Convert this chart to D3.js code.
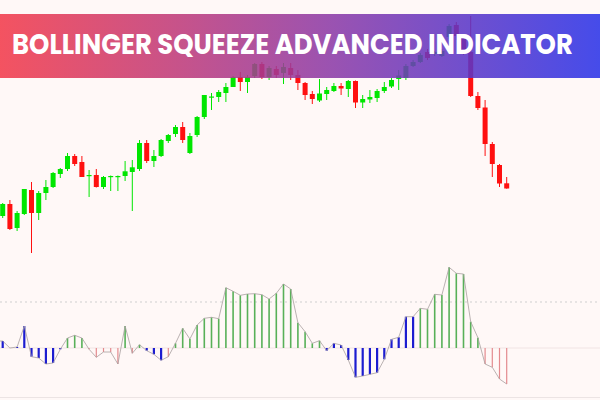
<!DOCTYPE html>
<html>
<head>
<meta charset="utf-8">
<script src="https://cdn.jsdelivr.net/npm/d3@7"></script>
<style>
  html, body { margin: 0; padding: 0; background: #fff8f7; }
  svg { display: block; }
</style>
</head>
<body>
<svg id="chart" width="600" height="400"></svg>
<script>
// ---- data (price points; candles: open, high, low, close) ----
const opens  = [44,56,32,46,70,47,67,73,86,91,104,98,84,85,73,83,83,84,88,91,117,99,104,119,126,133,107,125,143,162.5,163,167,173,183,178,184,196,183,191,187,192,185,177,166,159.5,166,169,174,171,179,157.5,160.5,162,169,173.5,181,182,194,198,208,206,204,223,235,222,208,164,152.5,116,95,76.7];
const highs  = [57,60,49,71,78,69,80,88,92,107,106,104,90,91,84,84.5,84.5,99,100,120,120,110,121,126,135,138,127,144,165,167,170,177,184,188,185,197,198,194,194,197,197,190,178,169,181,173,177,177,180,179.5,165,170,171,178,182,190,196,200,207,211,209,211,236,238,226,244,168,160,118,96,83];
const lows   = [42,30,29,45,7,40,60,72,82,89,94,83,63,72.5,71,69,69,79,49,89,97,93,103,117,123,117,106,123,141,150,158,158,173,169,167,182,181,180,182,176,180,170,160,156,158,160,168,165,163,152,152,157,158,167,172,170,180,193,197,200,204,203,221,220,205,163,150,104,83,73,71.3];
const closes = [56,31,47,71,47,67,73,87,91,104,96,83,85,73,83,84,84,88.7,92.7,117,99,104,120,125,133,120,124,143,165,163.5,168,173,183,178,183,196,183,192,185,193,185,177,165,161,166.5,170,174,171.5,179,157.5,161,163,169,173,180,184.5,194,198,205,202,208,209,234,224,210,164,152,116,96,76.5,71.5];

// ---- indicator histogram values and their colour classes ----
const histValues = [7,0,1,22,-8.7,-10,-16,-15,-1.3,10,12.7,10,-1.3,-9.3,-4,-4,-16,22,-5.3,3.3,-2.7,-6.3,-12.3,-8.7,4.7,19.7,9,23,29.7,30.7,29.3,60.3,56.7,52.7,54,54.3,53.3,49,54.7,64,59,25.3,16.3,4.7,7.3,-2.7,4.7,3,-12,-29.3,-28,-26.3,-24.7,-11.3,8.7,10.7,31.3,31.3,39.7,38.7,53.7,53,80.7,74.7,74,26.3,10.3,-16,-19.3,-31,-36];
const histClass  = ["b","b","b","b","b","b","b","b","b","g","g","g","r","r","r","r","r","g","r","g","b","b","b","r","g","g","g","g","g","g","g","g","g","g","g","g","g","g","g","g","g","g","g","g","g","b","b","b","b","b","b","b","b","b","b","b","b","b","g","g","g","g","g","g","g","g","g","r","r","r","r"];
const squeezeLevel = 46;   // dotted reference level of the indicator
const titleText = "BOLLINGER SQUEEZE ADVANCED INDICATOR";

const candles = opens.map((o, i) => ({ i, o, h: highs[i], l: lows[i], c: closes[i] }));
const hist = histValues.map((v, i) => ({ i, v, k: histClass[i] }));

const W = 600, H = 400;
const svg = d3.select("#chart");

svg.append("rect").attr("width", W).attr("height", H).attr("fill", "#fff8f7");

const x = d3.scaleLinear().domain([0, candles.length - 1]).range([2.7, 506.7]);
const yP = d3.scaleLinear().domain([0, 260]).range([260, 0]);
const yH = d3.scaleLinear().domain([-50, 100]).range([398, 248]);

// ---- candles ----
const up = "#00e600", down = "#ff1010";
const cg = svg.append("g");
cg.selectAll("line.wick").data(candles).join("line")
  .attr("class", "wick")
  .attr("x1", d => x(d.i)).attr("x2", d => x(d.i))
  .attr("y1", d => yP(d.h)).attr("y2", d => yP(d.l))
  .attr("stroke", d => d.c >= d.o ? up : down)
  .attr("stroke-width", 1);
cg.selectAll("rect.body").data(candles).join("rect")
  .attr("class", "body")
  .attr("x", d => x(d.i) - 2.5)
  .attr("width", 5)
  .attr("y", d => yP(Math.max(d.o, d.c)))
  .attr("height", d => Math.max(1.2, Math.abs(yP(d.o) - yP(d.c))))
  .attr("fill", d => d.c >= d.o ? up : down);

// ---- indicator panel ----
const ig = svg.append("g");
ig.append("line").attr("x1", 0).attr("x2", W)
  .attr("y1", yH(0)).attr("y2", yH(0))
  .attr("stroke", "#f1e4e4").attr("stroke-width", 1);
ig.append("line").attr("x1", 0).attr("x2", W)
  .attr("y1", yH(squeezeLevel)).attr("y2", yH(squeezeLevel))
  .attr("stroke", "#cfcfcf").attr("stroke-width", 1)
  .attr("stroke-dasharray", "2,3");
ig.append("line").attr("x1", 0).attr("x2", W)
  .attr("y1", 397.5).attr("y2", 397.5)
  .attr("stroke", "#ece4e4").attr("stroke-width", 1);

const colorH = { b: "#1c1cd0", g: "#58b058", r: "#e48a8e" };
const widthH = { b: 2.2, g: 1.6, r: 1.2 };
ig.selectAll("line.hbar").data(hist).join("line")
  .attr("class", "hbar")
  .attr("x1", d => x(d.i)).attr("x2", d => x(d.i))
  .attr("y1", yH(0)).attr("y2", d => yH(d.v))
  .attr("stroke", d => colorH[d.k])
  .attr("stroke-width", d => widthH[d.k]);

const line = d3.line().x(d => x(d.i)).y(d => yH(d.v));
ig.append("path").datum(hist)
  .attr("d", line)
  .attr("fill", "none")
  .attr("stroke", "#a8a0a0")
  .attr("stroke-width", 0.8);
ig.append("line")
  .attr("x1", 0).attr("x2", x(0))
  .attr("y1", yH(histValues[0])).attr("y2", yH(histValues[0]))
  .attr("stroke", "#a8a0a0").attr("stroke-width", 0.8);

// ---- title banner ----
const defs = svg.append("defs");
const grad = defs.append("linearGradient").attr("id", "bannerGrad")
  .attr("x1", "0%").attr("x2", "100%").attr("y1", "0%").attr("y2", "0%");
grad.append("stop").attr("offset", "0%").attr("stop-color", "#f23a4a");
grad.append("stop").attr("offset", "30%").attr("stop-color", "#be3a7a");
grad.append("stop").attr("offset", "55%").attr("stop-color", "#8c3aa6");
grad.append("stop").attr("offset", "100%").attr("stop-color", "#2a32e8");

svg.append("rect")
  .attr("x", 0).attr("y", 14).attr("width", W).attr("height", 64)
  .attr("fill", "url(#bannerGrad)")
  .attr("opacity", 0.87);

const title = svg.append("text")
  .attr("x", 0).attr("y", 0)
  .attr("fill", "#ffffff")
  .attr("font-family", "Poppins, 'Open Sans', sans-serif")
  .attr("font-weight", 700)
  .attr("font-size", 28)
  .text(titleText);
const natural = title.node().getComputedTextLength();
const targetW = 561;
title.attr("transform", `translate(12,53.5) scale(${targetW / natural},1)`);
</script>
</body>
</html>
